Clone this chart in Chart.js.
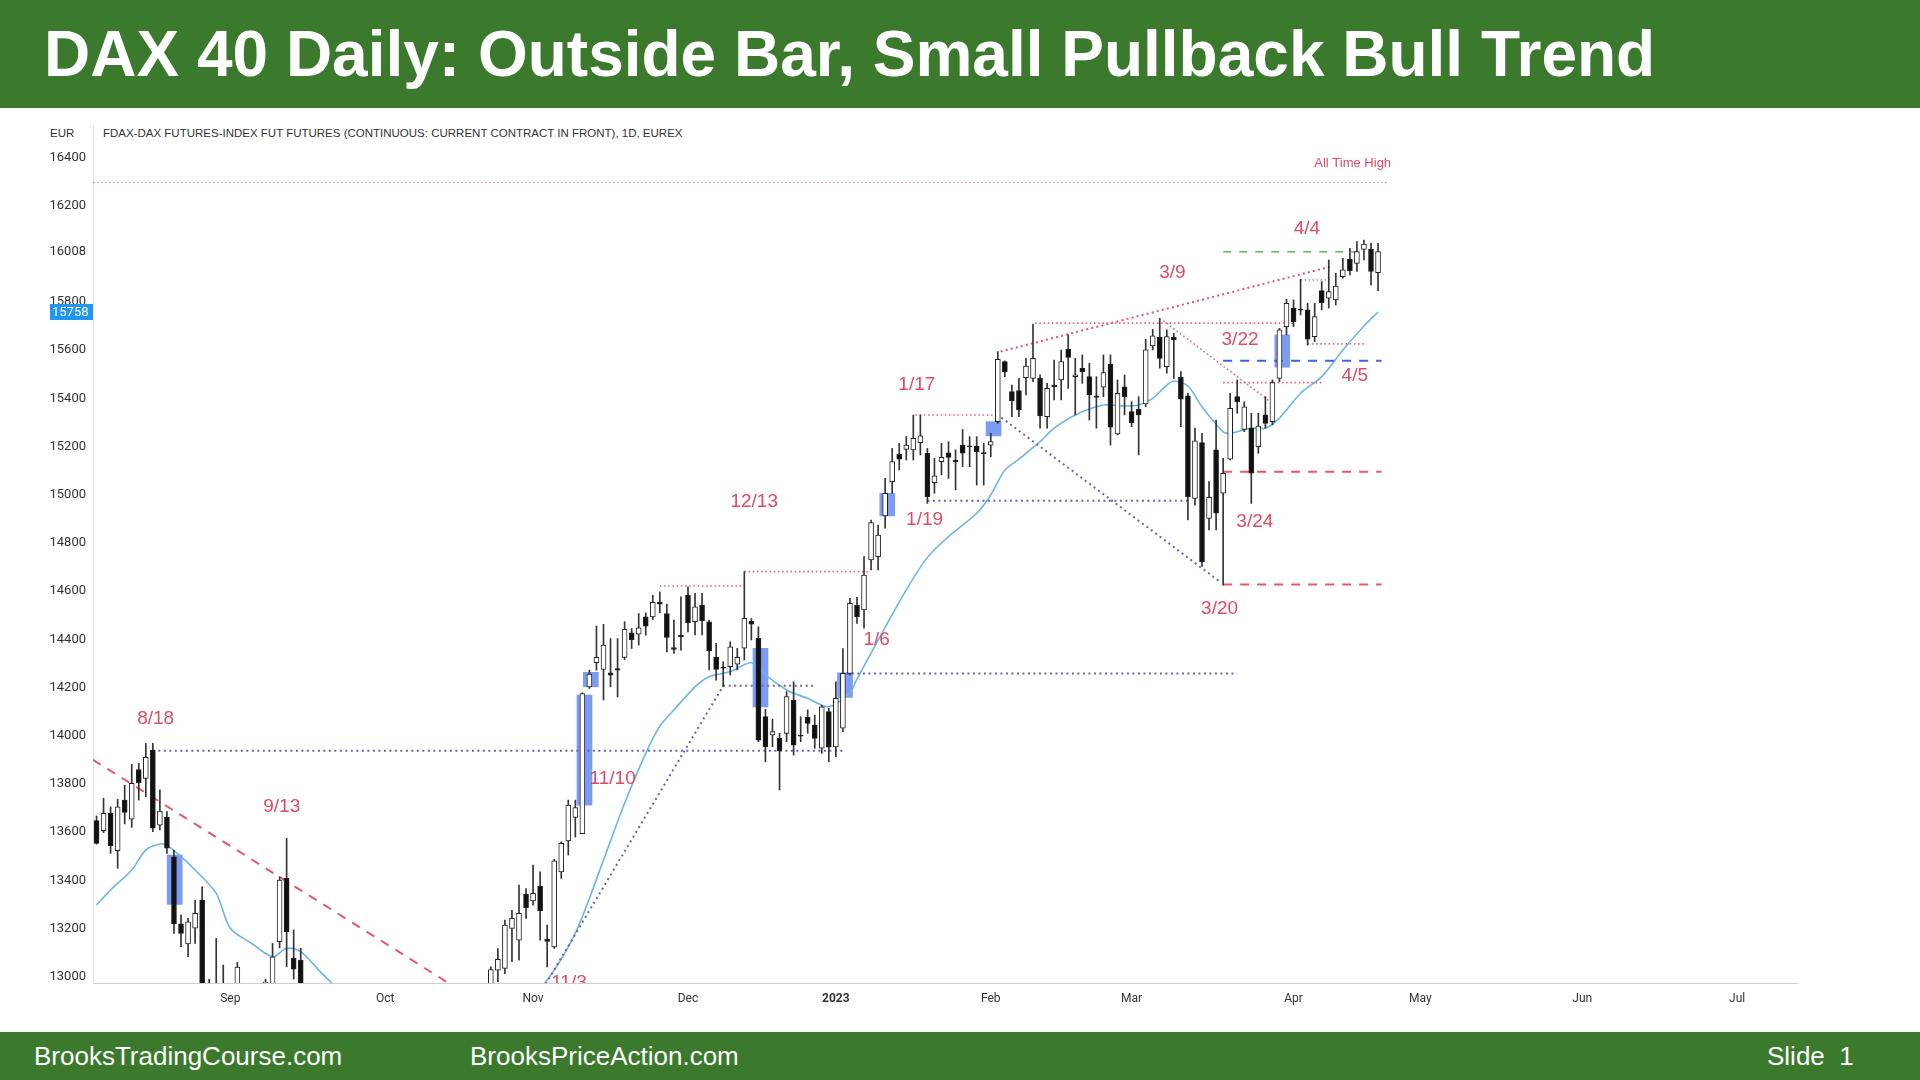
<!DOCTYPE html>
<html>
<head>
<meta charset="utf-8">
<script src="https://cdn.jsdelivr.net/npm/chart.js@4.4.1/dist/chart.umd.min.js"></script>
<style>
  body { margin: 0; width: 1920px; height: 1080px; position: relative; overflow: hidden; background: #fff; font-family: "Liberation Sans", Arial, sans-serif; }
  .bar { position: absolute; left: 0; width: 1920px; background: #3b7a2d; color: #fff; }
  #title { top: 0; height: 108px; line-height: 108px; font-size: 64px; font-weight: bold; padding-left: 44px; box-sizing: border-box; white-space: nowrap; }
  #footer { top: 1032px; height: 48px; line-height: 48px; font-size: 26px; }
  #footer span { position: absolute; top: 0; }
  .hdr { position: absolute; top: 127px; font: 11.5px "Liberation Sans", Arial, sans-serif; color: #333; white-space: nowrap; }
  #c { position: absolute; left: 0; top: 108px; }
</style>
</head>
<body>
<div id="title" class="bar">DAX 40 Daily: Outside Bar, Small Pullback Bull Trend</div>
<div class="hdr" style="left:50px">EUR</div>
<div class="hdr" style="left:103px">FDAX-DAX FUTURES-INDEX FUT FUTURES (CONTINUOUS: CURRENT CONTRACT IN FRONT), 1D, EUREX</div>
<canvas id="c" width="1920" height="924"></canvas>
<div id="footer" class="bar">
  <span style="left:34px">BrooksTradingCourse.com</span>
  <span style="left:470px">BrooksPriceAction.com</span>
  <span style="left:1767px">Slide&nbsp;&nbsp;1</span>
</div>
<script>
// daily bars, 5 Aug 2022 .. 21 Apr 2023 (index = trading day)
const open = [
  13648, 13606, 13678, 13523, 13733, 13654, 13860, 13823, 13940, 13629,
  13661, 13498, 13219, 13136, 13201, 13318, 12950, 12890, 12950, 12820,
  12680, 12800, 12780, 12800, 12900, 12960, 13145, 13408, 13076, 13069,
  12900, 12700, 12850, 12760, 12600, 12450, 12300, 12280, 12100, 12080,
  12000, 12180, 12400, 12600, 12550, 12400, 12250, 12280, 12200, 12100,
  12420, 12520, 12740, 12750, 12700, 12660, 12880, 13027, 13034, 13200,
  13152, 13343, 13315, 13376, 13155, 13124, 13435, 13564, 13661, 13594,
  14203, 14303, 14275, 14261, 14279, 14325, 14427, 14421, 14493, 14493,
  14555, 14507, 14366, 14417, 14583, 14473, 14542, 14473, 14325, 14285,
  14286, 14297, 14363, 14476, 14404, 14079, 14003, 13989, 14010, 14148,
  14003, 14076, 14044, 13948, 14100, 13954, 14031, 14259, 14542, 14522,
  14729, 14743, 14912, 15054, 15168, 15188, 15186, 15216, 15172, 15050,
  15137, 15174, 15144, 15206, 15200, 15202, 15175, 15206, 15303, 15552,
  15428, 15432, 15486, 15483, 15483, 15324, 15455, 15476, 15603, 15490,
  15524, 15490, 15410, 15446, 15542, 15252, 15448, 15345, 15354, 15377,
  15617, 15653, 15531, 15653, 15487, 15410, 14985, 15216, 14902, 15186,
  15006, 15147, 15407, 15271, 15276, 15199, 15331, 15303, 15483, 15697,
  15774, 15770, 15767, 15656, 15847, 15815, 15808, 15905, 15977, 15960,
  16018, 16018, 15921
];
const high = [
  13667, 13740, 13705, 13736, 13795, 13881, 13885, 13968, 13968, 13775,
  13685, 13526, 13256, 13242, 13318, 13373, 12990, 13159, 13048, 12900,
  13060, 12880, 12950, 12930, 12990, 13138, 13415, 13574, 13194, 13118,
  12950, 12820, 12900, 12800, 12650, 12470, 12380, 12330, 12200, 12100,
  12210, 12300, 12700, 12650, 12600, 12450, 12330, 12310, 12280, 12400,
  12630, 12660, 12830, 12780, 12800, 12760, 13041, 13117, 13235, 13276,
  13380, 13366, 13463, 13435, 13214, 13487, 13560, 13733, 13733, 14178,
  14272, 14455, 14462, 14403, 14403, 14473, 14445, 14507, 14510, 14583,
  14597, 14546, 14480, 14576, 14618, 14591, 14591, 14480, 14383, 14307,
  14390, 14362, 14681, 14487, 14452, 14109, 14068, 14010, 14183, 14224,
  14079, 14107, 14086, 14127, 14114, 14224, 14362, 14570, 14574, 14743,
  14895, 14874, 15068, 15192, 15213, 15241, 15331, 15331, 15192, 15151,
  15213, 15220, 15186, 15271, 15241, 15241, 15213, 15255, 15594, 15556,
  15455, 15483, 15566, 15708, 15497, 15462, 15559, 15600, 15663, 15566,
  15580, 15545, 15490, 15580, 15580, 15476, 15497, 15386, 15407, 15645,
  15686, 15732, 15684, 15670, 15511, 15421, 15276, 15255, 15054, 15310,
  15151, 15421, 15476, 15386, 15338, 15338, 15407, 15476, 15690, 15811,
  15808, 15894, 15794, 15794, 15884, 15974, 15919, 15981, 16022, 16050,
  16057, 16043, 16043
];
const low = [
  13550, 13598, 13512, 13450, 13634, 13620, 13733, 13747, 13602, 13609,
  13512, 13180, 13125, 13083, 13138, 12900, 12810, 12870, 12800, 12560,
  12660, 12600, 12720, 12660, 12780, 12950, 13120, 13042, 12990, 12900,
  12700, 12650, 12640, 12600, 12460, 12200, 12170, 12120, 11880, 11880,
  11900, 11950, 12380, 12450, 12400, 12250, 12200, 12120, 12150, 11870,
  12400, 12480, 12700, 12630, 12600, 12600, 12850, 12980, 13013, 13062,
  13069, 13242, 13297, 13152, 13041, 13117, 13408, 13505, 13580, 13594,
  14196, 14272, 14148, 14203, 14161, 14316, 14362, 14376, 14417, 14482,
  14510, 14348, 14341, 14355, 14431, 14418, 14418, 14273, 14231, 14203,
  14252, 14273, 14314, 14397, 13975, 13892, 13954, 13775, 13975, 13920,
  13975, 14010, 13948, 13927, 13892, 13913, 14017, 14252, 14466, 14446,
  14688, 14688, 14861, 15006, 15103, 15144, 15144, 15165, 14964, 15006,
  15082, 15068, 15020, 15116, 15116, 15040, 15040, 15158, 15296, 15490,
  15324, 15324, 15414, 15469, 15276, 15276, 15393, 15393, 15441, 15331,
  15462, 15310, 15276, 15407, 15206, 15248, 15331, 15282, 15165, 15365,
  15601, 15525, 15504, 15483, 15282, 14895, 14957, 14702, 14854, 14854,
  14625, 15144, 15338, 15262, 14964, 15172, 15276, 15290, 15469, 15663,
  15697, 15746, 15621, 15635, 15767, 15774, 15787, 15898, 15912, 15926,
  15974, 15870, 15847
];
const close = [
  13553, 13678, 13544, 13705, 13682, 13802, 13805, 13910, 13616, 13687,
  13533, 13219, 13180, 13228, 13263, 12950, 12890, 12960, 12840, 12640,
  13040, 12760, 12880, 12910, 12900, 13083, 13401, 13187, 13031, 12950,
  12740, 12800, 12680, 12770, 12530, 12280, 12230, 12140, 12180, 11990,
  12150, 12230, 12700, 12520, 12470, 12290, 12270, 12220, 12170, 12360,
  12440, 12650, 12780, 12740, 12770, 12740, 13030, 13072, 13214, 13242,
  13263, 13287, 13346, 13274, 13147, 13481, 13553, 13712, 13702, 14175,
  14256, 14325, 14376, 14251, 14272, 14441, 14399, 14448, 14455, 14553,
  14546, 14408, 14358, 14410, 14468, 14535, 14477, 14353, 14275, 14280,
  14369, 14325, 14487, 14463, 13982, 13954, 14017, 13938, 14162, 13961,
  13998, 14051, 13989, 14120, 13952, 14155, 14259, 14549, 14494, 14667,
  14884, 14833, 15006, 15137, 15147, 15206, 15234, 15244, 14992, 15078,
  15155, 15155, 15136, 15172, 15199, 15179, 15170, 15220, 15562, 15511,
  15390, 15352, 15534, 15566, 15327, 15441, 15448, 15552, 15570, 15497,
  15511, 15414, 15404, 15507, 15280, 15421, 15407, 15299, 15331, 15601,
  15659, 15566, 15656, 15642, 15396, 14992, 15224, 14722, 14989, 14923,
  15089, 15358, 15386, 15365, 15089, 15285, 15296, 15465, 15684, 15794,
  15718, 15766, 15645, 15739, 15797, 15843, 15866, 15933, 15930, 16009,
  16040, 15926, 16009
];

// 20 EMA at some bars
const emaIdx = [0, 2, 5, 7, 9, 10, 12, 14, 17, 19, 22, 25, 27, 29, 32, 33, 36, 42, 48, 54, 60,
  64, 67, 69, 72, 75, 78, 80, 82, 85, 87, 90, 93, 95, 98, 101, 104, 107, 108, 111, 115, 118,
  121, 125, 127, 129, 131, 134, 136, 139, 143, 146, 148, 150, 152, 153, 155, 157, 160, 161,
  164, 166, 168, 171, 174, 177, 180, 182];
const emaVal = [13298, 13360, 13443, 13526, 13551, 13545, 13498, 13443, 13346, 13201, 13139, 13083, 13118, 13104, 13014, 12986, 12900, 12720, 12600, 12660, 12860,
  12986, 13124, 13249, 13484, 13720, 13927, 14040, 14107, 14203, 14245, 14266, 14303, 14252, 14190, 14155, 14120, 14180, 14235, 14397, 14605, 14740,
  14826, 14923, 14999, 15102, 15148, 15220, 15276, 15331, 15372, 15368, 15372, 15400, 15455, 15472, 15451, 15365, 15261, 15255,
  15276, 15276, 15318, 15421, 15490, 15600, 15700, 15758];

// x axis: first trading day of each month
const tickIndex = [19, 41, 62, 84, 105, 127, 147, 170, 188, 211, 233];
const tickText = ['Sep', 'Oct', 'Nov', 'Dec', '2023', 'Feb', 'Mar', 'Apr', 'May', 'Jun', 'Jul'];
const yTicks = [13000, 13200, 13400, 13600, 13800, 14000, 14200, 14400, 14600, 14800, 15000,
  15200, 15400, 15600, 15800, 16008, 16200, 16400];

// highlighted bars
const boxIdx = [11.1, 69.3, 70.2, 94.3, 106.3, 112.3, 127.4, 168.4];
const boxLow = [13300, 13712, 14203, 14120, 14159, 14912, 15244, 15529];
const boxHigh = [13505, 14169, 14263, 14363, 14261, 15006, 15303, 15663];

// drawn lines [bar1, price1, bar2, price2]
const purpleDots = [
  [8, 13938, 106, 13938], [89, 14207, 102, 14207], [106.5, 14258, 162, 14258],
  [118, 14975, 155, 14975], [63.8, 12970, 89, 14207], [128.5, 15320, 159.5, 14640]
];
const pinkDots = [
  [80, 14621, 92, 14621], [92, 14681, 109.5, 14681], [116.3, 15331, 127.4, 15331],
  [133.3, 15712, 170, 15712], [172, 15626, 180, 15626], [160, 15465, 174, 15465],
  [151.5, 15722, 166.5, 15390]
];
const athLine = [[-0.5, 16295, 183.4, 16295]];
const wedgeLine = [[128.4, 15594, 175.6, 15949]];
const grayDots = [[171, 15891, 175.2, 15891]];
const redDashes = [[-0.5, 13900, 52, 12937], [160, 15095, 182.5, 15095], [160, 14627, 182.5, 14627]];
const blueDashes = [[160, 15556, 182.5, 15556]];
const greenDashes = [[160, 16008, 179, 16008]];

// labels
const noteText = ['8/18', '9/13', '11/3', '11/10', '12/13', '1/6', '1/17', '1/19', '3/9', '3/20', '3/22', '3/24', '4/4', '4/5'];
const noteIdx = [8.4, 26.3, 67.1, 73.3, 93.4, 110.8, 116.5, 117.6, 152.8, 159.5, 162.4, 164.5, 171.9, 178.7];
const notePrice = [14069, 13704, 12974, 13820, 14970, 14400, 15457, 14897, 15920, 14527, 15644, 14888, 16102, 15494];
const athText = 'All Time High';
const athIdx = 178.4, athPrice = 16376;

const RED = '#dd4c65';

function segs(list, color, width, dash, order) {
  return list.map(s => ({
    type: 'line',
    data: [{ x: s[0], y: s[1] }, { x: s[2], y: s[3] }],
    borderColor: color, borderWidth: width, borderDash: dash,
    pointRadius: 0, fill: false, clip: 0, order
  }));
}

const notes = {
  id: 'notes',
  afterDatasetsDraw(chart) {
    const { ctx, chartArea: a, scales: { x, y } } = chart;
    ctx.save();
    ctx.beginPath();
    ctx.rect(a.left, a.top, a.right - a.left, a.bottom - a.top);
    ctx.clip();
    ctx.fillStyle = RED;
    ctx.textAlign = 'center';
    ctx.textBaseline = 'middle';
    ctx.font = '19px "Liberation Sans", Arial, sans-serif';
    noteText.forEach((t, k) => ctx.fillText(t, x.getPixelForValue(noteIdx[k]), y.getPixelForValue(notePrice[k])));
    ctx.font = '13px "Liberation Sans", Arial, sans-serif';
    ctx.fillText(athText, x.getPixelForValue(athIdx), y.getPixelForValue(athPrice));
    ctx.restore();

    // last EMA value tag on the price axis
    const last = emaVal[emaVal.length - 1];
    const ty = y.getPixelForValue(last);
    ctx.save();
    ctx.fillStyle = '#2196f3';
    ctx.fillRect(a.left - 43, ty - 8, 43, 16);
    ctx.fillStyle = '#fff';
    ctx.font = '13px Roboto, sans-serif';
    ctx.textAlign = 'left';
    ctx.textBaseline = 'middle';
    ctx.fillText(String(last), a.left - 41, ty + 1);
    ctx.restore();
  }
};

const bars = open.map((o, i) => i);
const datasets = [
  {
    type: 'bar', data: boxIdx.map((v, k) => ({ x: v, y: [boxLow[k], boxHigh[k]] })),
    backgroundColor: 'rgba(74,116,240,0.72)', barThickness: 15, maxBarThickness: 15,
    grouped: false, clip: 0, order: 9
  },
  {
    type: 'line', data: emaIdx.map((v, k) => ({ x: v, y: emaVal[k] })),
    borderColor: '#6cb5e3', borderWidth: 1.6, pointRadius: 0, tension: 0.3, fill: false, clip: 0, order: 8
  },
  ...segs(athLine, 'rgba(200,100,120,0.85)', 1, [1.5, 2.5], 7),
  ...segs(purpleDots, '#6a62b3', 2, [2, 3.5], 7),
  ...segs(pinkDots, '#e0687f', 1.6, [1.6, 2.6], 7),
  ...segs(wedgeLine, '#e0566f', 2, [2, 3.2], 7),
  ...segs(grayDots, '#9a9a9a', 1.4, [1.5, 2.5], 7),
  ...segs(redDashes, '#e8566e', 2, [9, 8], 7),
  ...segs(blueDashes, '#3d63e0', 2, [9, 8], 7),
  ...segs(greenDashes, '#63b363', 1.6, [8, 8], 7),
  {
    type: 'bar', data: bars.map(i => ({ x: i, y: [low[i], high[i]] })),
    backgroundColor: '#333', barThickness: 1, maxBarThickness: 1,
    grouped: false, clip: 0, order: 2
  },
  {
    type: 'bar', data: bars.map(i => ({ x: i, y: [open[i], close[i]] })),
    backgroundColor: bars.map(i => close[i] >= open[i] ? '#ffffff' : '#111111'),
    borderColor: '#222', borderWidth: 1, borderSkipped: false, minBarLength: 1,
    barThickness: 5, maxBarThickness: 5, grouped: false, clip: 0, order: 1
  }
];

Chart.defaults.font.family = 'Roboto, sans-serif';
new Chart(document.getElementById('c'), {
  type: 'bar',
  data: { datasets },
  options: {
    responsive: false,
    animation: false,
    events: [],
    layout: { padding: { left: 0, right: 123, top: 17, bottom: 19 } },
    plugins: { legend: { display: false }, tooltip: { enabled: false } },
    scales: {
      x: {
        type: 'linear', min: -0.5, max: 241.5, offset: false,
        grid: { display: false, drawTicks: false },
        border: { display: true, color: '#cfcfcf' },
        afterBuildTicks: s => { s.ticks = tickIndex.map(v => ({ value: v })); },
        afterFit: s => { s.height = 30; },
        ticks: {
          autoSkip: false, maxRotation: 0, padding: 9, color: '#333',
          font: c => ({ size: 12, weight: c.tick && c.tick.value === 105 ? 'bold' : 'normal' }),
          callback: v => tickText[tickIndex.indexOf(v)]
        }
      },
      y: {
        type: 'linear', min: 12974, max: 16534,
        grid: { display: false, drawTicks: false },
        border: { display: true, color: '#e3e3e3' },
        afterBuildTicks: s => { s.ticks = yTicks.map(v => ({ value: v })); },
        afterFit: s => { s.width = 93; },
        ticks: { padding: 7, color: '#333', font: { size: 13 }, callback: v => String(v) }
      }
    }
  },
  plugins: [notes]
});
</script>
</body>
</html>
